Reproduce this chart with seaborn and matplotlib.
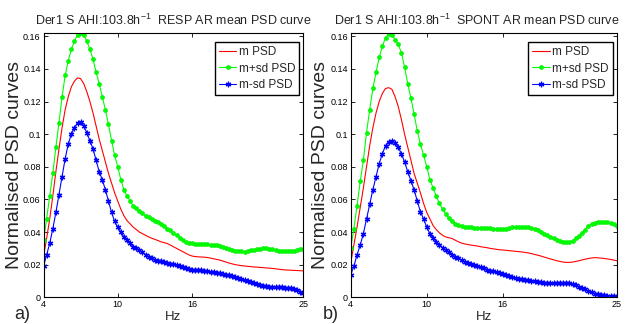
import numpy as np
import pandas as pd
import seaborn as sns
import matplotlib.pyplot as plt

# frequency grid (Hz), 0.25 Hz resolution
freq = np.linspace(4, 25, 85)

# RESP AR (panel a)
resp_mean = [0.025, 0.036, 0.048, 0.062, 0.077, 0.091, 0.104, 0.115, 0.123, 0.129,
             0.1325, 0.1345, 0.134, 0.131, 0.126, 0.120, 0.113, 0.105, 0.097, 0.090,
             0.083, 0.076, 0.070, 0.064, 0.059, 0.054, 0.050, 0.047, 0.045, 0.043,
             0.0415, 0.040, 0.039, 0.038, 0.037, 0.0362, 0.0355, 0.0348, 0.034, 0.0335,
             0.033, 0.032, 0.031, 0.030, 0.029, 0.028, 0.027, 0.026, 0.0253, 0.025,
             0.0248, 0.0247, 0.0246, 0.0244, 0.024, 0.0236, 0.0232, 0.0228, 0.0222, 0.0216,
             0.021, 0.0205, 0.020, 0.0197, 0.0194, 0.0192, 0.019, 0.0188, 0.0186, 0.0185,
             0.0183, 0.0182, 0.018, 0.0179, 0.0177, 0.0175, 0.0172, 0.017, 0.0168, 0.0167,
             0.0166, 0.0165, 0.0164, 0.0163, 0.0162]
resp_plus = [0.035, 0.048, 0.062, 0.076, 0.092, 0.107, 0.123, 0.136, 0.145, 0.152,
             0.157, 0.161, 0.162, 0.161, 0.157, 0.152, 0.146, 0.138, 0.131, 0.123,
             0.115, 0.106, 0.096, 0.087, 0.080, 0.072, 0.066, 0.062, 0.059, 0.056,
             0.0545, 0.053, 0.0515, 0.050, 0.049, 0.048, 0.047, 0.046, 0.0448, 0.0435,
             0.042, 0.041, 0.0395, 0.038, 0.0365, 0.035, 0.034, 0.0334, 0.033, 0.0327,
             0.0326, 0.0326, 0.0326, 0.0324, 0.0323, 0.0322, 0.032, 0.0315, 0.031, 0.0302,
             0.0296, 0.029, 0.0286, 0.0283, 0.0281, 0.028, 0.0283, 0.0287, 0.029, 0.0295,
             0.0298, 0.030, 0.030, 0.0298, 0.0294, 0.029, 0.0286, 0.0283, 0.0282, 0.0283,
             0.0284, 0.0286, 0.029, 0.0294, 0.0298]
resp_minus = [0.019, 0.026, 0.033, 0.042, 0.052, 0.063, 0.074, 0.085, 0.094, 0.100,
              0.104, 0.107, 0.1075, 0.105, 0.101, 0.096, 0.091, 0.084, 0.077, 0.072,
              0.066, 0.059, 0.052, 0.0465, 0.043, 0.040, 0.037, 0.035, 0.033, 0.031,
              0.030, 0.029, 0.0275, 0.0262, 0.025, 0.024, 0.023, 0.0225, 0.022, 0.0215,
              0.021, 0.0207, 0.0202, 0.0196, 0.019, 0.0184, 0.0178, 0.0173, 0.017, 0.0168,
              0.0167, 0.0165, 0.0162, 0.016, 0.0157, 0.0154, 0.015, 0.0147, 0.0143, 0.0139,
              0.0135, 0.013, 0.0125, 0.012, 0.0114, 0.0108, 0.0101, 0.0094, 0.0087, 0.008,
              0.0075, 0.007, 0.0067, 0.0065, 0.0064, 0.0063, 0.0062, 0.0061, 0.006, 0.0058,
              0.0055, 0.005, 0.0045, 0.0035, 0.0025]

# SPONT AR (panel b)
spont_mean = [0.021, 0.032, 0.043, 0.055, 0.067, 0.080, 0.093, 0.104, 0.113, 0.120,
              0.125, 0.128, 0.1285, 0.1275, 0.123, 0.117, 0.109, 0.100, 0.092, 0.084,
              0.076, 0.070, 0.064, 0.0575, 0.052, 0.048, 0.044, 0.0415, 0.0395, 0.038,
              0.037, 0.0365, 0.036, 0.035, 0.034, 0.0332, 0.0327, 0.0323, 0.032, 0.0317,
              0.0314, 0.031, 0.0307, 0.0304, 0.030, 0.0297, 0.0294, 0.0291, 0.029, 0.0288,
              0.0286, 0.0284, 0.0282, 0.028, 0.0278, 0.0275, 0.0272, 0.0268, 0.0263, 0.0258,
              0.0253, 0.0247, 0.0241, 0.0235, 0.023, 0.0224, 0.022, 0.0216, 0.0214, 0.0214,
              0.0216, 0.022, 0.0224, 0.0229, 0.0234, 0.0238, 0.0241, 0.0243, 0.0242, 0.024,
              0.0238, 0.0235, 0.0232, 0.0228, 0.0224]
spont_plus = [0.030, 0.042, 0.056, 0.071, 0.084, 0.101, 0.115, 0.128, 0.138, 0.147,
              0.154, 0.159, 0.1615, 0.161, 0.158, 0.155, 0.150, 0.141, 0.131, 0.122,
              0.1125, 0.102, 0.094, 0.087, 0.080, 0.072, 0.067, 0.062, 0.0575, 0.054,
              0.051, 0.0485, 0.0465, 0.045, 0.0442, 0.0435, 0.0432, 0.043, 0.0428, 0.0427,
              0.0427, 0.0426, 0.0425, 0.0423, 0.0422, 0.042, 0.0418, 0.0417, 0.0418, 0.0421,
              0.0425, 0.0428, 0.043, 0.0432, 0.0432, 0.0431, 0.0429, 0.0425, 0.0418, 0.041,
              0.040, 0.039, 0.0381, 0.0371, 0.0362, 0.0354, 0.0347, 0.0341, 0.0337, 0.0337,
              0.0348, 0.0362, 0.0378, 0.0396, 0.0415, 0.0435, 0.0449, 0.0457, 0.0462, 0.0463,
              0.0462, 0.046, 0.0455, 0.0447, 0.0438]
spont_minus = [0.0137, 0.019, 0.026, 0.032, 0.039, 0.048, 0.057, 0.066, 0.074, 0.082,
               0.088, 0.093, 0.0955, 0.096, 0.0945, 0.092, 0.088, 0.083, 0.077, 0.0715,
               0.066, 0.059, 0.0525, 0.048, 0.043, 0.039, 0.0365, 0.034, 0.032, 0.0305,
               0.029, 0.0275, 0.026, 0.025, 0.0238, 0.0226, 0.0218, 0.021, 0.0203, 0.0197,
               0.019, 0.0183, 0.0177, 0.017, 0.0164, 0.0159, 0.0154, 0.0149, 0.0143, 0.0136,
               0.0129, 0.0122, 0.0117, 0.0113, 0.011, 0.0107, 0.0104, 0.0101, 0.0098, 0.0095,
               0.0092, 0.009, 0.0088, 0.0087, 0.0086, 0.0086, 0.0086, 0.0087, 0.0087, 0.0086,
               0.0082, 0.0074, 0.0066, 0.0057, 0.0048, 0.0038, 0.003, 0.0023, 0.0018, 0.0015,
               0.0013, 0.001, 0.0008, 0.0006, 0.0004]

titles = ["Der1 S AHI:103.8h$^{-1}$  RESP AR mean PSD curve",
          "Der1 S AHI:103.8h$^{-1}$  SPONT AR mean PSD curve"]
panel_tags = ["a)", "b)"]
xticks = [4, 10, 16, 25]
yticks = [0, 0.02, 0.04, 0.06, 0.08, 0.1, 0.12, 0.14, 0.16]
ytick_labels = ["0", "0.02", "0.04", "0.06", "0.08", "0.1", "0.12", "0.14", "0.16"]

sns.set_style("ticks")
plt.rcParams['font.family'] = ['Liberation Sans', 'DejaVu Sans']
plt.rcParams['mathtext.default'] = 'regular'
plt.rcParams['xtick.direction'] = 'in'
plt.rcParams['ytick.direction'] = 'in'

fig = plt.figure(figsize=(6.27, 3.24), dpi=100)
ax_a = fig.add_axes([0.0694, 0.0824, 0.4144, 0.8157])
ax_b = fig.add_axes([0.5593, 0.0824, 0.4247, 0.8157])

panels = [(ax_a, resp_mean, resp_plus, resp_minus),
          (ax_b, spont_mean, spont_plus, spont_minus)]

for i, (ax, m, mp, mm) in enumerate(panels):
    sns.lineplot(x=freq, y=m, ax=ax, color="#ff0000", lw=0.8, label="m PSD")
    sns.lineplot(x=freq, y=mp, ax=ax, color="#00ff00", lw=0.8, marker="o",
                 markersize=2.8, markeredgecolor="#00ee00", markeredgewidth=0.5,
                 label="m+sd PSD")
    sns.lineplot(x=freq, y=mm, ax=ax, color="#0000ff", lw=0.8, marker=(6, 2, 0),
                 markersize=4, markeredgecolor="#0000ff", markeredgewidth=0.9,
                 label="m-sd PSD")

    ax.set_xlim(4, 25)
    ax.set_ylim(0, 0.162)
    ax.set_xticks(xticks)
    ax.set_xticklabels([str(t) for t in xticks])
    ax.set_yticks(yticks)
    ax.set_yticklabels(ytick_labels)
    ax.tick_params(axis='both', labelsize=6.5, length=3, width=0.6,
                   top=True, right=True, pad=2, colors='black')
    for sp in ax.spines.values():
        sp.set_visible(True)
        sp.set_color('black')
        sp.set_linewidth(0.8)

    ax.set_title(titles[i], fontsize=9, pad=6, x=0.5 if i == 0 else 0.475)
    ax.set_xlabel("Hz", fontsize=9.5)
    ax.xaxis.set_label_coords(0.5, -0.052)
    ax.set_ylabel("Normalised PSD curves", fontsize=14)
    ax.yaxis.set_label_coords(-0.08, 0.5)

    leg = ax.legend(loc="upper right", bbox_to_anchor=(0.985, 0.965),
                    borderaxespad=0, fontsize=8.5, fancybox=False,
                    framealpha=1, edgecolor="black", handlelength=1.5,
                    handletextpad=0.2, borderpad=0.35, labelspacing=0.35)
    leg.get_frame().set_linewidth(1.0)

fig.text(0.035, 0.028, panel_tags[0], fontsize=13, ha='center', va='center')
fig.text(0.528, 0.028, panel_tags[1], fontsize=13, ha='center', va='center')

fig.savefig("out.png", dpi=100)
